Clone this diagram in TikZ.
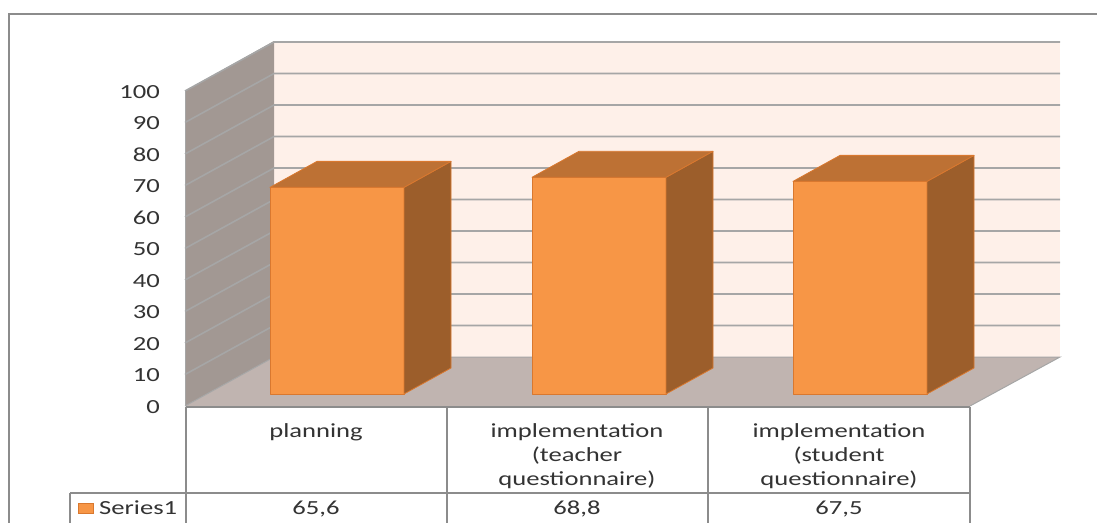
\documentclass[tikz,border=0pt]{standalone}
\usepackage{fontspec}
\setmainfont{Carlito}[FakeStretch=1.33]
\definecolor{frontc}{HTML}{F79646}
\definecolor{topc}{HTML}{BD7134}
\definecolor{sidec}{HTML}{9C5E2B}
\definecolor{edgec}{HTML}{D9782F}
\definecolor{backwall}{HTML}{FEF0E9}
\definecolor{sidewall}{HTML}{A29893}
\definecolor{floorc}{HTML}{C0B4B0}
\definecolor{gridc}{HTML}{A6A6A6}
\definecolor{framec}{HTML}{8C8C8C}
\definecolor{txt}{HTML}{333333}
\tikzset{
  gridline/.style={draw=gridc,line width=1.6pt},
  tabline/.style={draw=framec,line width=1.4pt},
  lbl/.style={font=\fontsize{20}{24}\selectfont,text=txt,inner sep=0pt},
  barface/.style={draw=edgec,line width=0.8pt,line join=round}
}
\begin{document}
\begin{tikzpicture}[x=1pt,y=-1pt]
\useasboundingbox (0,0) rectangle (1097,522);
% outer frame
\draw[draw=framec,line width=1.6pt] (9,530) -- (9,14) -- (1105,14);
% walls
\fill[backwall] (274,41) rectangle (1060,357);
\fill[sidewall] (185,91) -- (274,41) -- (274,357) -- (185,406) -- cycle;
\fill[floorc] (185,406) -- (274,357) -- (1060,357) -- (970,406) -- cycle;
\draw[gridc,line width=1pt] (185,406) -- (274,357) -- (1060,357) -- (970,406);
\draw[gridc,line width=1pt] (185,406) -- (185,91);
\foreach \k in {1,...,10}{
  \draw[gridline] (185,{406-31.5*\k}) -- (274,{357-31.5*\k}) -- (1060,{357-31.5*\k});
}
% y labels
\foreach \k in {0,...,10}{
  \pgfmathtruncatemacro\v{10*\k}
  \node[lbl,anchor=east] (y\k) at (160,{407-31.5*\k}) {\v};
}
% bars
\foreach \xl/\val/\nm in {270/65.6/a,532/68.8/b,793/67.5/c}{
  \pgfmathsetmacro\yt{394-3.15*\val}
  \pgfmathsetmacro\xr{\xl+134}
  \fill[frontc,barface] (\xl,394) rectangle (\xr,\yt);
  \fill[sidec,barface] (\xr,394) -- (\xr+47,368) -- (\xr+47,\yt-26) -- (\xr,\yt) -- cycle;
  \fill[topc,barface] (\xl,\yt) -- (\xl+47,\yt-26) -- (\xr+47,\yt-26) -- (\xr,\yt) -- cycle;
}
% table
\fill[white] (186,407) rectangle (970,530);
\draw[tabline] (186,407) -- (970,407);
\draw[tabline] (70,493) -- (970,493);
\foreach \x in {186,447,708,970}{
  \draw[tabline] (\x,407) -- (\x,530);
}
\draw[tabline] (70,493) -- (70,530);
\node[lbl,align=center,anchor=north] (c1) at (316,423) {planning};
\node[lbl,align=center,anchor=north] (c2) at (577,423) {implementation\\(teacher\\questionnaire)};
\node[lbl,align=center,anchor=north] (c3) at (839,423) {implementation\\(student\\questionnaire)};
\node[lbl] (v1) at (316,509) {65,6};
\node[lbl] (v2) at (577,509) {68,8};
\node[lbl] (v3) at (839,509) {67,5};
\node[draw=edgec,fill=frontc,line width=0.8pt,minimum width=15pt,minimum height=10pt,inner sep=0pt] (key) at (86,508) {};
\node[lbl,anchor=west] (ser) at (99,508) {Series1};
\end{tikzpicture}
\end{document}
